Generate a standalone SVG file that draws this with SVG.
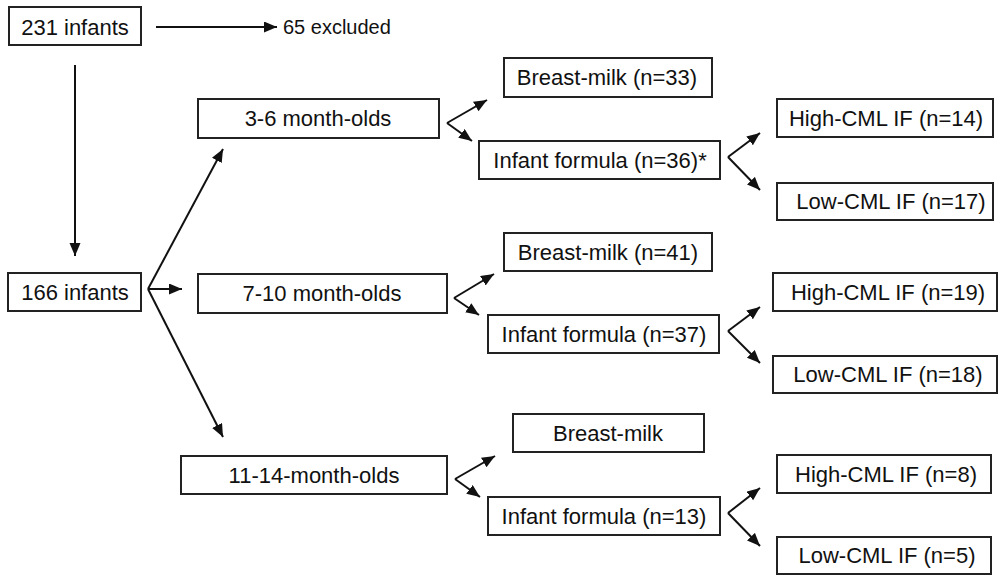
<svg xmlns="http://www.w3.org/2000/svg" width="1000" height="575" viewBox="0 0 1000 575">
<style>
.box{fill:#fff;stroke:#222;stroke-width:2}
.t{font-family:"Liberation Sans",Arial,sans-serif;font-size:22px;fill:#111;text-anchor:middle}
.c{fill:none;stroke:#111;stroke-width:2}
</style>
<defs>
<marker id="ah" markerUnits="userSpaceOnUse" markerWidth="14" markerHeight="12" refX="13" refY="5.5" orient="auto">
<path d="M0,0 L13,5.5 L0,11 z" fill="#111"/>
</marker>
</defs>
<rect width="1000" height="575" fill="#fff"/>
<g id="connectors">
<line class="c" x1="156" y1="27" x2="277" y2="27" marker-end="url(#ah)"/>
<line class="c" x1="75" y1="65" x2="75" y2="256" marker-end="url(#ah)"/>
<line class="c" x1="148" y1="289" x2="223" y2="149" marker-end="url(#ah)"/>
<line class="c" x1="148" y1="289" x2="182" y2="289" marker-end="url(#ah)"/>
<line class="c" x1="148" y1="289" x2="223" y2="437" marker-end="url(#ah)"/>
<line class="c" x1="447" y1="123" x2="487" y2="100" marker-end="url(#ah)"/>
<line class="c" x1="447" y1="123" x2="472" y2="141" marker-end="url(#ah)"/>
<line class="c" x1="454" y1="298" x2="494" y2="274" marker-end="url(#ah)"/>
<line class="c" x1="454" y1="298" x2="479" y2="315" marker-end="url(#ah)"/>
<line class="c" x1="455" y1="479" x2="495" y2="456" marker-end="url(#ah)"/>
<line class="c" x1="455" y1="479" x2="480" y2="497" marker-end="url(#ah)"/>
<line class="c" x1="728" y1="157" x2="760" y2="133" marker-end="url(#ah)"/>
<line class="c" x1="728" y1="157" x2="760" y2="190" marker-end="url(#ah)"/>
<line class="c" x1="728" y1="331" x2="760" y2="307" marker-end="url(#ah)"/>
<line class="c" x1="728" y1="331" x2="760" y2="363" marker-end="url(#ah)"/>
<line class="c" x1="728" y1="513" x2="760" y2="488" marker-end="url(#ah)"/>
<line class="c" x1="728" y1="513" x2="760" y2="546" marker-end="url(#ah)"/>
</g>
<g id="n231"><rect class="box" x="9" y="7" width="132" height="38"/><text class="t" x="75" y="35">231 infants</text></g>
<g id="excluded"><text class="t" x="283" y="34" style="text-anchor:start;font-size:20px">65 excluded</text></g>
<g id="n166"><rect class="box" x="8" y="273" width="133" height="38"/><text class="t" x="75" y="300">166 infants</text></g>
<g id="age36"><rect class="box" x="198" y="99" width="241" height="39"/><text class="t" x="318" y="126">3-6 month-olds</text></g>
<g id="age710"><rect class="box" x="198" y="274" width="249" height="39"/><text class="t" x="322" y="301">7-10 month-olds</text></g>
<g id="age1114"><rect class="box" x="181" y="456" width="266" height="38"/><text class="t" x="314" y="483">11-14-month-olds</text></g>
<g id="bm1"><rect class="box" x="504" y="58" width="208" height="39"/><text class="t" x="607" y="85">Breast-milk (n=33)</text></g>
<g id="if1"><rect class="box" x="479" y="141" width="241" height="38"/><text class="t" x="600" y="168">Infant formula (n=36)*</text></g>
<g id="bm2"><rect class="box" x="504" y="233" width="208" height="38"/><text class="t" x="608" y="260">Breast-milk (n=41)</text></g>
<g id="if2"><rect class="box" x="488" y="315" width="231" height="38"/><text class="t" x="604" y="342">Infant formula (n=37)</text></g>
<g id="bm3"><rect class="box" x="513" y="414" width="191" height="38"/><text class="t" x="608" y="441">Breast-milk</text></g>
<g id="if3"><rect class="box" x="488" y="497" width="232" height="38"/><text class="t" x="604" y="524">Infant formula (n=13)</text></g>
<g id="hi1"><rect class="box" x="777" y="99" width="216" height="38"/><text class="t" x="886" y="126">High-CML IF (n=14)</text></g>
<g id="lo1"><rect class="box" x="777" y="183" width="216" height="37"/><text class="t" x="891" y="209">Low-CML IF (n=17)</text></g>
<g id="hi2"><rect class="box" x="773" y="273" width="224" height="38"/><text class="t" x="888" y="300">High-CML IF (n=19)</text></g>
<g id="lo2"><rect class="box" x="773" y="356" width="224" height="37"/><text class="t" x="888" y="382">Low-CML IF (n=18)</text></g>
<g id="hi3"><rect class="box" x="777" y="455" width="214" height="38"/><text class="t" x="886" y="482">High-CML IF (n=8)</text></g>
<g id="lo3"><rect class="box" x="777" y="537" width="214" height="37"/><text class="t" x="887" y="563">Low-CML IF (n=5)</text></g>
</svg>
